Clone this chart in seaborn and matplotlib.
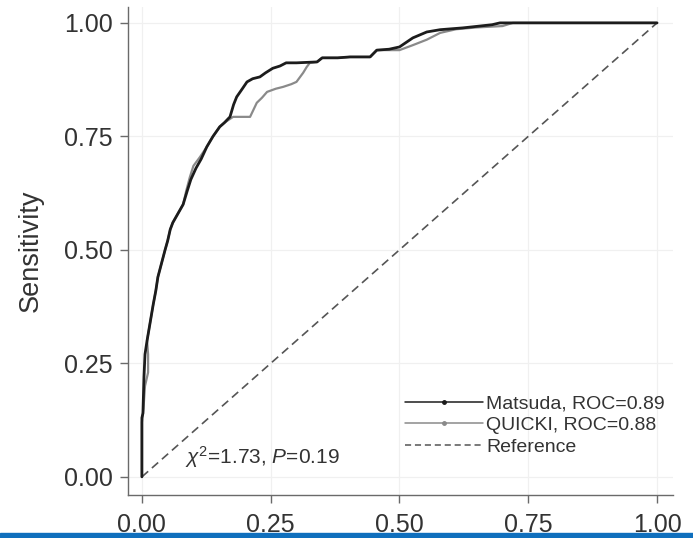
import matplotlib
matplotlib.use("Agg")
import matplotlib.pyplot as plt
from matplotlib.lines import Line2D
from matplotlib.patches import Rectangle
import seaborn as sns
import numpy as np

# ROC curve points
matsuda_fpr = [0.0, 0.0, 0.002, 0.004, 0.006, 0.010, 0.016, 0.022, 0.027, 0.031, 0.038, 0.045,
               0.050, 0.055, 0.060, 0.070, 0.080, 0.088, 0.095, 0.105, 0.115, 0.126, 0.138,
               0.151, 0.160, 0.171, 0.178, 0.184, 0.195, 0.204, 0.215, 0.229, 0.240, 0.254,
               0.268, 0.280, 0.300, 0.340, 0.350, 0.380, 0.404, 0.443, 0.456, 0.480, 0.500,
               0.526, 0.553, 0.579, 0.623, 0.680, 0.695, 1.0]
matsuda_tpr = [0.0, 0.13, 0.14, 0.22, 0.27, 0.30, 0.34, 0.38, 0.41, 0.44, 0.47, 0.50,
               0.52, 0.545, 0.56, 0.58, 0.60, 0.63, 0.655, 0.68, 0.70, 0.727, 0.75,
               0.771, 0.78, 0.793, 0.82, 0.837, 0.855, 0.870, 0.877, 0.881, 0.89, 0.90,
               0.905, 0.912, 0.912, 0.914, 0.923, 0.923, 0.925, 0.925, 0.94, 0.942, 0.947,
               0.967, 0.98, 0.985, 0.989, 0.996, 1.0, 1.0]

quicki_fpr = [0.0, 0.0, 0.003, 0.006, 0.012, 0.012, 0.010, 0.016, 0.022, 0.027, 0.031, 0.038,
              0.045, 0.050, 0.055, 0.060, 0.070, 0.080, 0.086, 0.093, 0.100, 0.113, 0.126,
              0.138, 0.151, 0.160, 0.177, 0.195, 0.210, 0.223, 0.233, 0.243, 0.260, 0.274,
              0.290, 0.300, 0.313, 0.320, 0.326, 0.340, 0.350, 0.380, 0.404, 0.443, 0.456,
              0.480, 0.500, 0.526, 0.553, 0.579, 0.610, 0.650, 0.700, 0.720, 1.0]
quicki_tpr = [0.0, 0.12, 0.15, 0.20, 0.23, 0.27, 0.30, 0.34, 0.38, 0.41, 0.44, 0.47,
              0.50, 0.52, 0.545, 0.56, 0.58, 0.60, 0.63, 0.66, 0.685, 0.705, 0.727,
              0.75, 0.771, 0.78, 0.793, 0.793, 0.793, 0.824, 0.835, 0.848, 0.855, 0.859,
              0.865, 0.870, 0.890, 0.903, 0.912, 0.914, 0.923, 0.923, 0.925, 0.925, 0.94,
              0.94, 0.94, 0.951, 0.963, 0.978, 0.986, 0.990, 0.993, 1.0, 1.0]

ref_x = [0.0, 1.0]
ref_y = [0.0, 1.0]

legend_labels = ["Matsuda, ROC=0.89", "QUICKI, ROC=0.88", "Reference"]
tick_vals = [0.0, 0.25, 0.5, 0.75, 1.0]
tick_labels = ["0.00", "0.25", "0.50", "0.75", "1.00"]
annot_text = r"$\chi^2$=1.73, $\it{P}$=0.19"

sns.set_theme(style="white")
plt.rcParams['font.family'] = ['Liberation Sans', 'DejaVu Sans']
plt.rcParams['mathtext.fontset'] = 'custom'
plt.rcParams['mathtext.rm'] = 'Liberation Sans'
plt.rcParams['mathtext.it'] = 'Liberation Sans:italic'

fig = plt.figure(figsize=(6.93, 5.38), dpi=100)
ax = fig.add_axes([128/693, 1-495/538, 545/693, 488/538])

black = "#1c1c1c"
gray = "#8a8a8a"
dcol = "#555555"

sns.lineplot(x=ref_x, y=ref_y, ax=ax, color=dcol, lw=1.2, sort=False,
             estimator=None, dashes=False, linestyle=(0, (5, 3)))
sns.lineplot(x=quicki_fpr, y=quicki_tpr, ax=ax, color=gray, lw=1.6, sort=False, estimator=None)
sns.lineplot(x=matsuda_fpr, y=matsuda_tpr, ax=ax, color=black, lw=2.0, sort=False, estimator=None)

ax.set_xlim(-0.027, 1.031)
ax.set_ylim(-0.04, 1.035)
ax.set_xticks(tick_vals)
ax.set_xticklabels(tick_labels)
ax.set_yticks(tick_vals)
ax.set_yticklabels(tick_labels)
ax.grid(True, color="#f0f0f0", lw=0.9)
ax.set_axisbelow(True)

for s in ["top", "right"]:
    ax.spines[s].set_visible(False)
for s in ["left", "bottom"]:
    ax.spines[s].set_color("#6a6a6a")
    ax.spines[s].set_linewidth(1.0)

ax.tick_params(axis="both", which="major", direction="out", length=6, width=1.0,
               color="#6a6a6a", labelsize=18, labelcolor="#333333")
ax.tick_params(axis="x", pad=7, bottom=True)
ax.tick_params(axis="y", pad=5, left=True)

ax.set_xlabel("")
ax.set_ylabel("Sensitivity", fontsize=19.5, color="#333333")
ax.yaxis.set_label_coords(-0.154, 0.5)

ax.text(0.083, 0.044, annot_text, fontsize=15, color="#333333", ha="left", va="center")

handles = [
    Line2D([], [], color=black, lw=1.1, marker="o", markersize=2.5),
    Line2D([], [], color=gray, lw=1.1, marker="o", markersize=2.5),
    Line2D([], [], color=dcol, lw=1.1, linestyle=(0, (4, 2.5))),
]
ax.legend(handles, legend_labels, loc="upper left", bbox_to_anchor=(0.49, 0.225),
          frameon=False, fontsize=14, handlelength=4, handletextpad=0.2,
          labelspacing=0.2, borderpad=0, numpoints=1, labelcolor="#333333")

fig.patches.append(Rectangle((0, 0), 1, 5/538, transform=fig.transFigure,
                             color="#0f6fbd", zorder=10))

fig.savefig("out.png", dpi=100)
